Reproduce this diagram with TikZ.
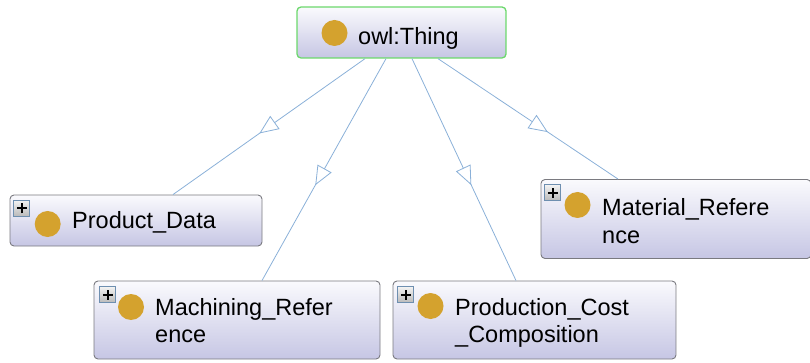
\documentclass[tikz,border=0pt]{standalone}
\usepackage{fontspec}
\setmainfont{Liberation Sans}
\usetikzlibrary{arrows.meta,decorations.markings}

\definecolor{edgeblue}{HTML}{8AB0D8}
\definecolor{boxline}{HTML}{7A7A80}
\definecolor{boxtop}{HTML}{FAFAFD}
\definecolor{boxbottom}{HTML}{C6C6E4}
\definecolor{thingline}{HTML}{6CD86C}
\definecolor{classdot}{HTML}{D4A22E}
\definecolor{btnline}{HTML}{6E8FB0}

\tikzset{
  classbox/.style={draw=boxline, line width=0.9pt, rounded corners=4pt,
    top color=boxtop, bottom color=boxbottom, inner sep=0pt},
  thingbox/.style={classbox, draw=thingline, line width=1.3pt},
  dot/.style={circle, fill=classdot, inner sep=0pt, minimum size=26pt},
  label/.style={anchor=base west, inner sep=0pt,
    font=\fontsize{23.5}{27}\selectfont},
  expander/.style={draw=btnline, line width=0.9pt, top color=gray!10,
    bottom color=gray!55, inner sep=0pt, minimum size=16pt,
    path picture={\draw[black, line width=2.4pt]
      ([xshift=-5pt]path picture bounding box.center) -- ++(10pt,0pt)
      ([yshift=-5pt]path picture bounding box.center) -- ++(0pt,10pt);}},
  subclass/.style={draw=edgeblue, line width=0.8pt, postaction=decorate,
    decoration={markings, mark=at position #1 with
      {\arrow{Triangle[length=19pt,width=16pt,fill=white,line width=0.8pt]}}}}
}

\begin{document}
\begin{tikzpicture}[x=1pt,y=-1pt]
\useasboundingbox (0,0) rectangle (810,363);

% class boxes
\node[thingbox, minimum width=209pt, minimum height=51pt] (thing) at (401.5,32.5) {};
\node[classbox, minimum width=252pt, minimum height=51pt] (pd) at (136,220.5) {};
\node[classbox, minimum width=286pt, minimum height=78pt] (mr) at (237,320) {};
\node[classbox, minimum width=283pt, minimum height=78pt] (pcc) at (534.5,320) {};
\node[classbox, minimum width=270pt, minimum height=79pt] (mat) at (676,219) {};

% expand buttons
\node[expander] (pdx) at (21.8,208.3) {};
\node[expander] (mrx) at (107.8,294.8) {};
\node[expander] (pccx) at (405.8,294.8) {};
\node[expander] (matx) at (552.8,192.8) {};

% class markers
\node[dot] (thingdot) at (334.5,33) {};
\node[dot] (pddot) at (47.7,224) {};
\node[dot] (mrdot) at (131,307) {};
\node[dot] (pccdot) at (430.5,306) {};
\node[dot] (matdot) at (577.5,205) {};

% class names
\node[label] (thingtxt) at (358,45) {owl:Thing};
\node[label] (pdtxt) at (72,228.5) {Product\_Data};
\node[label] (mrtxt) at (155,315) {Machining\_Refer};
\node[label] (mrtxtb) at (155,342) {ence};
\node[label] (pcctxt) at (455,315) {Production\_Cost};
\node[label] (pcctxtb) at (455,342) {\_Composition};
\node[label] (mattxt) at (602,215) {Material\_Refere};
\node[label] (mattxtb) at (602,243) {nce};

% subclass edges
\draw[subclass=0.55] ([xshift=-36.5pt]thing.south) -- ([xshift=37pt]pd.north);
\draw[subclass=0.57] ([xshift=-15.5pt]thing.south) -- ([xshift=25pt]mr.north);
\draw[subclass=0.57] ([xshift=10.5pt]thing.south) -- ([xshift=-18.5pt]pcc.north);
\draw[subclass=0.61] ([xshift=36.5pt]thing.south) -- ([xshift=-58pt]mat.north);
\end{tikzpicture}
\end{document}
